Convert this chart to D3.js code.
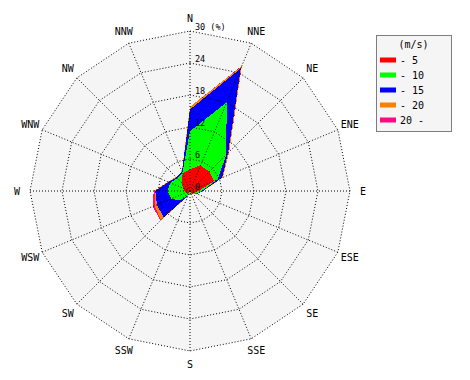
<!DOCTYPE html>
<html>
<head>
<meta charset="utf-8">
<script src="https://cdn.jsdelivr.net/npm/d3@7"></script>
<style>
  body { margin: 0; background: #fff; }
  svg text { font-family: "DejaVu Sans Mono", monospace; fill: #000; }
</style>
</head>
<body>
<svg width="470" height="380"></svg>
<script>
// 16 wind directions, clockwise from north
var directions = ["N","NNE","NE","ENE","E","ESE","SE","SSE","S","SSW","SW","WSW","W","WNW","NW","NNW"];

// frequency (%) for each speed class
var upTo5  = [4.1, 5.2, 5.1, 4.9, 1.6, 0.9, 0.5, 0.3, 0.3, 0.3, 0.5, 0.7, 1.1, 1.4, 2.2, 3.6];
var upTo10 = [7.1, 12.8, 4.5, 0.7, 0.6, 0.5, 0.3, 0.2, 0.1, 0.5, 2.0, 3.1, 3.1, 2.6, 1.2, 0.1];
var upTo15 = [4.1, 6.9, 0.5, 0.9, 0.2, 0.1, 0.1, 0.0, 0.1, 0.2, 4.5, 2.9, 2.3, 0.4, 0.2, 0.2];
var upTo20 = [0.5, 0.4, 0.3, 0.2, 0.1, 0.0, 0.0, 0.0, 0.0, 0.1, 0.7, 0.5, 0.1, 0.1, 0.1, 0.1];
var over20 = [0.0, 0.1, 0.0, 0.0, 0.0, 0.0, 0.0, 0.0, 0.0, 0.0, 0.1, 0.4, 0.2, 0.0, 0.0, 0.0];

var speedLabels = ["- 5", "- 10", "- 15", "- 20", "20 -"];
var speedColors = ["#ff0000", "#00ff00", "#0000ff", "#ff8000", "#ff0a80"];
var ringTicks = [0, 6, 12, 18, 24, 30];

var svg = d3.select("svg"),
    cx = 190, cy = 191,
    outer = 160;

var series = [upTo5, upTo10, upTo15, upTo20, over20];
var table = directions.map(function(d, i) {
  var row = {dir: d};
  speedLabels.forEach(function(k, j) { row[k] = series[j][i]; });
  return row;
});
var stacked = d3.stack().keys(speedLabels)(table);

var r = d3.scaleLinear().domain([0, 30]).range([0, outer]);
var angle = d3.scalePoint().domain(directions).range([0, 2 * Math.PI * 15 / 16]);

var g = svg.append("g").attr("transform", "translate(" + cx + "," + cy + ")");

function ringPath(v) {
  return d3.lineRadial()
    .angle(function(d) { return angle(d); })
    .radius(r(v))
    .curve(d3.curveLinearClosed)(directions);
}

// plot background
g.append("path")
  .attr("d", ringPath(30))
  .style("fill", "#f5f5f5");

// stacked areas, outermost first so inner classes cover them
var area = d3.lineRadial()
  .angle(function(d) { return angle(d.data.dir); })
  .radius(function(d) { return r(d[1]); })
  .curve(d3.curveLinearClosed);

g.append("g")
  .selectAll("path")
  .data(stacked.slice().reverse())
  .enter().append("path")
    .attr("d", function(d) { return area(d); })
    .style("fill", function(d) { return speedColors[d.index]; })
    .style("shape-rendering", "crispEdges");

// dotted grid on top
var grid = g.append("g")
  .style("fill", "none")
  .style("stroke", "#000")
  .style("stroke-width", "1px")
  .style("stroke-dasharray", "1,2");

grid.selectAll("path.ring")
  .data(ringTicks.slice(1))
  .enter().append("path")
    .attr("class", "ring")
    .attr("d", function(d) { return ringPath(d); });

grid.selectAll("line")
  .data(directions)
  .enter().append("line")
    .attr("x1", 0).attr("y1", 0)
    .attr("x2", function(d) { return r(30) * Math.sin(angle(d)); })
    .attr("y2", function(d) { return -r(30) * Math.cos(angle(d)); });

// ring labels along north axis
g.selectAll("text.tick")
  .data(ringTicks)
  .enter().append("text")
    .attr("class", "tick")
    .attr("x", 5)
    .attr("y", function(d) { return -r(d) - 1; })
    .style("font-size", "8.5px")
    .text(function(d) { return d == 30 ? d + " (%)" : d; });

// direction labels
g.selectAll("text.dir")
  .data(directions)
  .enter().append("text")
    .attr("class", "dir")
    .attr("x", function(d) { return 173 * Math.sin(angle(d)); })
    .attr("y", function(d) { return -173 * Math.cos(angle(d)); })
    .attr("text-anchor", "middle")
    .attr("dy", "0.35em")
    .style("font-size", "10px")
    .text(function(d) { return d; });

// legend
var legend = svg.append("g").attr("transform", "translate(376,35)");

legend.append("rect")
  .attr("x", 0.5).attr("y", 0.5)
  .attr("width", 75).attr("height", 96)
  .style("fill", "#f5f5f5")
  .style("stroke", "#000")
  .style("stroke-dasharray", "1,1");

legend.append("text")
  .attr("x", 37.5).attr("y", 9)
  .attr("dy", "0.35em")
  .attr("text-anchor", "middle")
  .style("font-size", "10px")
  .text("(m/s)");

var item = legend.selectAll("g.item")
  .data(speedLabels)
  .enter().append("g")
    .attr("class", "item")
    .attr("transform", function(d, i) { return "translate(0," + (25 + i * 15) + ")"; });

item.append("rect")
  .attr("x", 4).attr("y", -2.5)
  .attr("width", 16).attr("height", 5)
  .style("fill", function(d, i) { return speedColors[i]; });

item.append("text")
  .attr("x", 24)
  .attr("dy", "0.35em")
  .style("font-size", "10px")
  .text(function(d) { return d; });
</script>
</body>
</html>
